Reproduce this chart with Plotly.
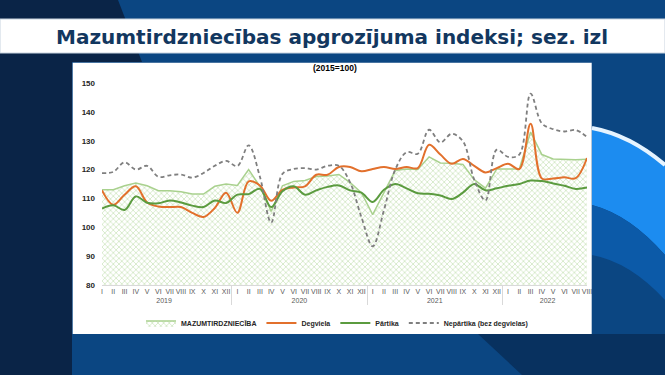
import plotly.graph_objects as go

# categories
month_names = ["I", "II", "III", "IV", "V", "VI", "VII", "VIII", "IX", "X", "XI", "XII"]
years = ["2019", "2020", "2021", "2022"]
months_in_year = [12, 12, 12, 8]

# series (2015=100), Jan 2019 .. Aug 2022
mazumtirdznieciba = [113, 113, 114.4, 115.3, 114.4, 112.7, 112.7, 112.3, 111.5, 111.5, 114.2, 115,
                     114.5, 120, 114.2, 105.5, 114.4, 115.9, 116.2, 117.6, 117.8, 118.3, 115.5, 112,
                     104.4, 112, 119.7, 120.2, 120, 124.4, 122.3, 122.2, 121.8, 116.5, 113.6, 120.2,
                     120.2, 120.2, 133, 125.2, 123.7, 123.6, 123.4, 123.6]
degviela = [112.8, 107.8, 111.3, 114.2, 108.6, 107.2, 107, 107, 105, 103.6, 106.7, 112,
            105, 115.9, 114.5, 109.2, 113, 113.8, 114.2, 118.2, 118.2, 120.9, 120.9, 119.4,
            120.2, 120.9, 120.2, 120.9, 120.5, 128.6, 125.2, 122, 123.7, 121.3, 119, 120.5,
            122, 120.2, 135.9, 116.9, 116.9, 117.3, 117, 124]
partika = [106.5, 107.6, 106, 110.7, 108.5, 108.3, 109.3, 108.6, 107.5, 107, 109.3, 108.4,
           111.3, 111.5, 113.3, 107, 112.5, 114.2, 111.3, 112.8, 114, 114.5, 112.8, 112,
           108.8, 113, 115, 113.5, 111.8, 111.6, 111, 109.8, 112, 115, 112.8, 113.5,
           114.4, 115, 116.2, 116, 115.2, 114.4, 113.3, 113.8]
nepartika = [118.8, 119.2, 122.5, 120, 121.3, 117.5, 118, 118.3, 117.2, 118.8, 121.3, 123,
             121.2, 128.4, 117.5, 101.6, 118.5, 120.2, 120.5, 120, 121.3, 121.3, 115.5, 103.5,
             93.4, 106, 120, 126, 125.5, 133.8, 129.4, 132.4, 129.8, 116.5, 109.3, 126.9,
             124.4, 125.2, 146.3, 136, 134, 133.2, 133.7, 131.3]

x_year = [y for y, n in zip(years, months_in_year) for _ in range(n)]
x_month = [m for n in months_in_year for m in month_names[:n]]
x = [x_year, x_month]

# page geometry (pixels) -> paper coords
W, H = 665, 375
L, R, T, B = 102, 78, 83, 90
PW, PH = W - L - R, H - T - B


def px(v):
    return (v - L) / PW


def py(v):
    return (H - B - v) / PH


fig = go.Figure()

fig.add_trace(go.Scatter(
    x=x, y=mazumtirdznieciba, name="MAZUMTIRDZNIECĪBA",
    mode="lines", fill="tozeroy",
    line=dict(color="#a9d18e", width=1.5),
    fillcolor="rgba(0,0,0,0)",
    fillpattern=dict(shape="x", fgcolor="#9fcd80", bgcolor="#ffffff", size=4, solidity=0.35),
))
fig.add_trace(go.Scatter(
    x=x, y=degviela, name="Degviela", mode="lines",
    line=dict(color="#e2702c", width=2, shape="spline", smoothing=1),
))
fig.add_trace(go.Scatter(
    x=x, y=partika, name="Pārtika", mode="lines",
    line=dict(color="#5b9b3f", width=2, shape="spline", smoothing=1),
))
fig.add_trace(go.Scatter(
    x=x, y=nepartika, name="Nepārtika (bez degvielas)", mode="lines",
    line=dict(color="#7f7f7f", width=1.8, dash="4px,3px", shape="spline", smoothing=1),
))


def poly(points):
    return "M " + " L ".join(f"{px(a)},{py(b)}" for a, b in points) + " Z"


shapes = [
    # dark left / top-left region
    dict(type="path", path=poly([(0, 0), (118, 0), (142, 62), (72, 62), (72, 375), (0, 375)]),
         fillcolor="#0a2447", line_width=0),
    # darker bottom-right
    dict(type="path", path=poly([(478, 334), (665, 334), (665, 375), (522, 375)]),
         fillcolor="#08315f", line_width=0),
    # swoosh on the right
    dict(type="path",
         path=f"M {px(592)},{py(128)} Q {px(630)},{py(135)} {px(665)},{py(165)} "
              f"L {px(665)},{py(255)} Q {px(630)},{py(215)} {px(592)},{py(205)} Z",
         fillcolor="#1c8cf0", line_width=0),
    dict(type="path",
         path=f"M {px(592)},{py(205)} Q {px(630)},{py(215)} {px(665)},{py(255)} "
              f"L {px(665)},{py(300)} Q {px(630)},{py(262)} {px(592)},{py(255)} Z",
         fillcolor="#0c5aa8", line_width=0),
    dict(type="path",
         path=f"M {px(592)},{py(128)} Q {px(630)},{py(135)} {px(665)},{py(165)}",
         line=dict(color="#e6f4ff", width=4)),
    # title bar
    dict(type="rect", x0=px(0), x1=px(665), y0=py(19), y1=py(53),
         fillcolor="#ffffff", line=dict(color="#c8d3df", width=1)),
    # chart panel
    dict(type="rect", x0=px(72.7), x1=px(591.7), y0=py(62.7), y1=py(334),
         fillcolor="#ffffff", line_width=0),
]
for s in shapes:
    s.update(xref="paper", yref="paper", layer="below")

fig.update_layout(
    width=W, height=H, autosize=False,
    margin=dict(l=L, r=R, t=T, b=B),
    paper_bgcolor="#0b4682",
    plot_bgcolor="rgba(0,0,0,0)",
    font=dict(family="Arial", color="#404040"),
    shapes=shapes,
    annotations=[
        dict(text="Mazumtirdzniecības apgrozījuma indeksi; sez. izl",
             x=px(332), y=py(36.5), xref="paper", yref="paper", showarrow=False,
             xanchor="center", yanchor="middle",
             font=dict(family="DejaVu Sans", size=20, color="#12375f", weight="bold")),
        dict(text="(2015=100)", x=px(335), y=py(68.5), xref="paper", yref="paper",
             showarrow=False, xanchor="center", yanchor="middle",
             font=dict(family="Arial", size=8.5, color="#000000", weight="bold")),
    ],
    legend=dict(
        orientation="h", x=px(337), xanchor="center", y=py(323), yanchor="middle",
        font=dict(family="Arial", size=7, color="#262626", weight="bold"),
        bgcolor="rgba(0,0,0,0)", itemwidth=30, tracegroupgap=0,
    ),
    xaxis=dict(
        type="multicategory", showdividers=True, dividercolor="#d9d9d9", dividerwidth=1,
        tickangle=0, showgrid=False, showline=True, linecolor="#d9d9d9",
        tickfont=dict(family="Arial", size=7, color="#595959"),
    ),
    yaxis=dict(
        range=[80, 150], dtick=10, showgrid=False, zeroline=False, showline=False,
        ticklabelstandoff=6,
        tickfont=dict(family="Arial", size=8, color="#262626", weight="bold"),
    ),
)

fig.write_html(
    "out.html",
    config={"displayModeBar": False},
    post_script="document.body.style.margin='0';document.body.style.overflow='hidden';",
)
